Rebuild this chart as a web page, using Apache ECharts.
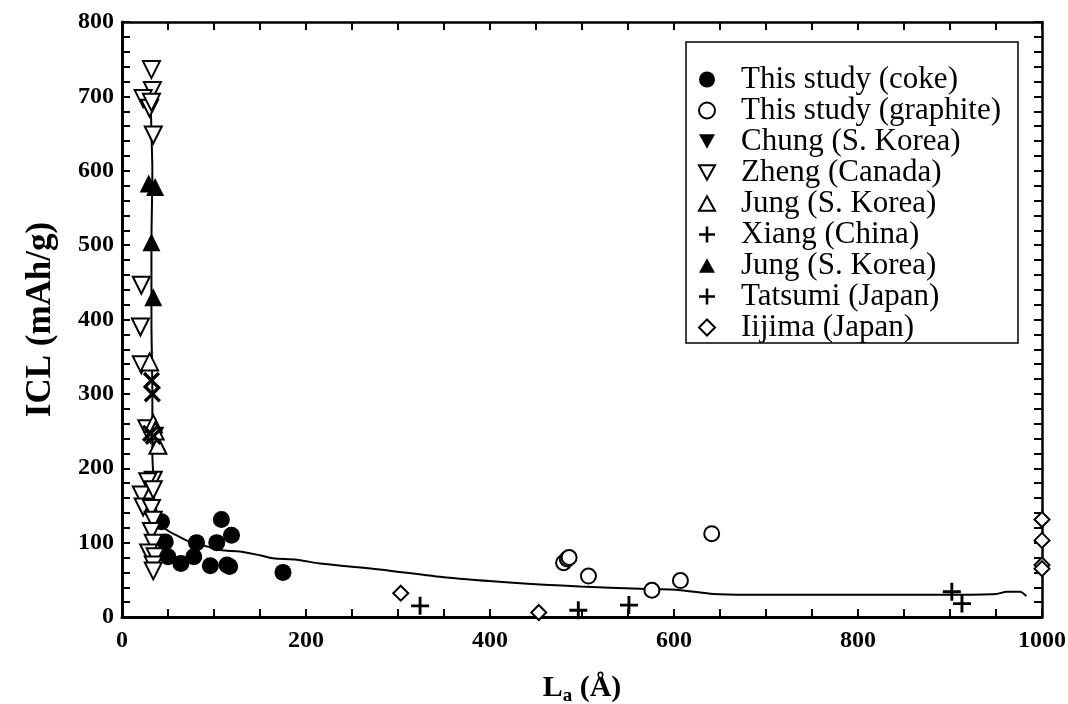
<!DOCTYPE html>
<html>
<head>
<meta charset="utf-8">
<script src="https://cdn.jsdelivr.net/npm/echarts@6/dist/echarts.min.js"></script>
<style>
  html, body { margin: 0; padding: 0; background: #fff; }
  #chart { width: 1068px; height: 704px; }
</style>
</head>
<body>
<div id="chart"></div>
<script>
  // data: [La (Å), ICL (mAh/g)]
  var cokeData = [[43,128],[47,101],[50,81],[64,72],[78,81],[81,100],[96,69],[103,100],[108,131],[114,70],[117,68],[119,110],[175,60]]
  var graphiteData = [[480,73],[484,78],[486,80],[507,55],[576,36],[607,49],[641,112]]
  var chungData = [[31,243]]
  var zhengData = [[32,736],[33,708],[23,697],[30,684],[32,692],[34,648],[21,446],[20,390],[21,339],[27,253],[35,243],
    [34,184],[28,182],[21,164],[34,171],[23,148],[32,146],[34,130],[32,115],[34,99],[29,86],[36,81],[34,70],[34,62]]
  var jungOpenData = [[30,343],[34,260],[39,231],[36,250]]
  var xiangData = [[32,318],[33,300],[31,247],[34,243]]
  var jungFilledData = [[29,583],[36,578],[32,504],[34,430]]
  var tatsumiData = [[324,15],[496,9],[551,16],[902,34],[913,18]]
  var iijimaData = [[303,32],[453,6],[1000,131],[1000,103],[1000,70],[1000,65]]
  var trendLine = [[31,705],[32,650],[33,600],[32,500],[32,400],[33,300],[33,250],[33,220],[34,190],[35,160],[38,140],
    [41,126],[50,116],[59,110],[74,101],[92,95],[107,90],[128,88],[150,83],[164,79],[190,77],[215,72],[280,64],
    [353,53],[425,46],[498,41],[563,38],[607,36],[643,31],[679,30],[800,30],[900,30],[950,31],[962,34],[976,34],[983,28]]
  var legendNames = ['This study (coke)','This study (graphite)','Chung (S. Korea)','Zheng (Canada)',
    'Jung (S. Korea)','Xiang (China)','Jung (S. Korea) ','Tatsumi (Japan)','Iijima (Japan)']
  var xLabelStep = 200
  var yLabelStep = 100

  var serif = '"Liberation Serif", "Times New Roman", serif'
  var downTri = 'path://M0,0L10,0L5,9Z'
  var upTri = 'path://M5,0L10,9L0,9Z'
  var plus = 'path://M4.2,0H5.8V4.2H10V5.8H5.8V10H4.2V5.8H0V4.2H4.2Z'
  var filled = { color: '#000', opacity: 1 }
  var hollow = { color: '#fff', borderColor: '#000', borderWidth: 2, opacity: 1 }

  function scatter(name, data, symbol, size, style, rotate) {
    return {
      name: name, type: 'scatter', data: data, symbol: symbol, symbolSize: size,
      symbolRotate: rotate || 0, itemStyle: style, z: 3
    }
  }
  function ticks() {
    return { show: true, inside: true, length: 8, lineStyle: { color: '#000', width: 2 } }
  }
  function frame(w) {
    return { show: true, onZero: false, lineStyle: { color: '#000', width: w } }
  }

  var chart = echarts.init(document.getElementById('chart'))
  var labelFont = { fontFamily: serif, fontWeight: 'bold', fontSize: 24, color: '#000' }
  var option = {
    backgroundColor: '#fff',
    animation: false,
    grid: { left: 122, right: 26, top: 22, bottom: 87, outerBoundsMode: 'none', containLabel: false },
    legend: {
      orient: 'vertical', left: 686, top: 42,
      data: legendNames,
      borderColor: '#000', borderWidth: 1.5, padding: [22, 17, 0, 12],
      itemWidth: 16, itemHeight: 16, itemGap: 0,
      textStyle: { fontFamily: serif, fontSize: 31, lineHeight: 31, color: '#000', padding: [0, 0, 0, 21] }
    },
    xAxis: [{
      type: 'value', min: 0, max: 1000, interval: 50,
      name: '{n|L}{s|a}{n| (Å)}', nameLocation: 'middle', nameGap: 54,
      nameTextStyle: { rich: {
        n: { fontFamily: serif, fontWeight: 'bold', fontSize: 30, color: '#000' },
        s: { fontFamily: serif, fontWeight: 'bold', fontSize: 19, color: '#000', verticalAlign: 'bottom', padding: [16, 0, 0, 0] }
      } },
      axisLine: frame(3), axisTick: ticks(), splitLine: { show: false },
      axisLabel: Object.assign({ margin: 12, formatter: function (v) { return v % xLabelStep === 0 ? String(v) : '' } }, labelFont)
    }, {
      type: 'value', min: 0, max: 1000, interval: 50, position: 'top',
      axisLine: frame(2.5), axisTick: ticks(), splitLine: { show: false }, axisLabel: { show: false }
    }],
    yAxis: [{
      type: 'value', min: 0, max: 800, interval: 20, position: 'left',
      name: 'ICL (mAh/g)', nameLocation: 'middle', nameGap: 64,
      nameTextStyle: { fontFamily: serif, fontWeight: 'bold', fontSize: 35, color: '#000' },
      axisLine: frame(3), axisTick: ticks(), splitLine: { show: false },
      axisLabel: Object.assign({ margin: 8, formatter: function (v) { return v % yLabelStep === 0 ? String(v) : '' } }, labelFont)
    }, {
      type: 'value', min: 0, max: 800, interval: 20, position: 'right',
      axisLine: frame(2.5), axisTick: ticks(), splitLine: { show: false }, axisLabel: { show: false }
    }],
    series: [
      {
        type: 'line', data: trendLine, smooth: 0.3, showSymbol: false, symbol: 'none',
        lineStyle: { color: '#000', width: 2 }, z: 2, silent: true
      },
      scatter(legendNames[0], cokeData, 'circle', 17, filled),
      scatter(legendNames[1], graphiteData, 'circle', 15, hollow),
      scatter(legendNames[2], chungData, downTri, 17, filled),
      scatter(legendNames[3], zhengData, downTri, 17, hollow),
      scatter(legendNames[4], jungOpenData, upTri, 17, hollow),
      scatter(legendNames[5], xiangData, plus, 21, filled, 45),
      scatter(legendNames[6], jungFilledData, upTri, 18, filled),
      scatter(legendNames[7], tatsumiData, plus, 18, filled),
      scatter(legendNames[8], iijimaData, 'diamond', 15, hollow)
    ]
  }
  chart.setOption(option)
</script>
</body>
</html>
